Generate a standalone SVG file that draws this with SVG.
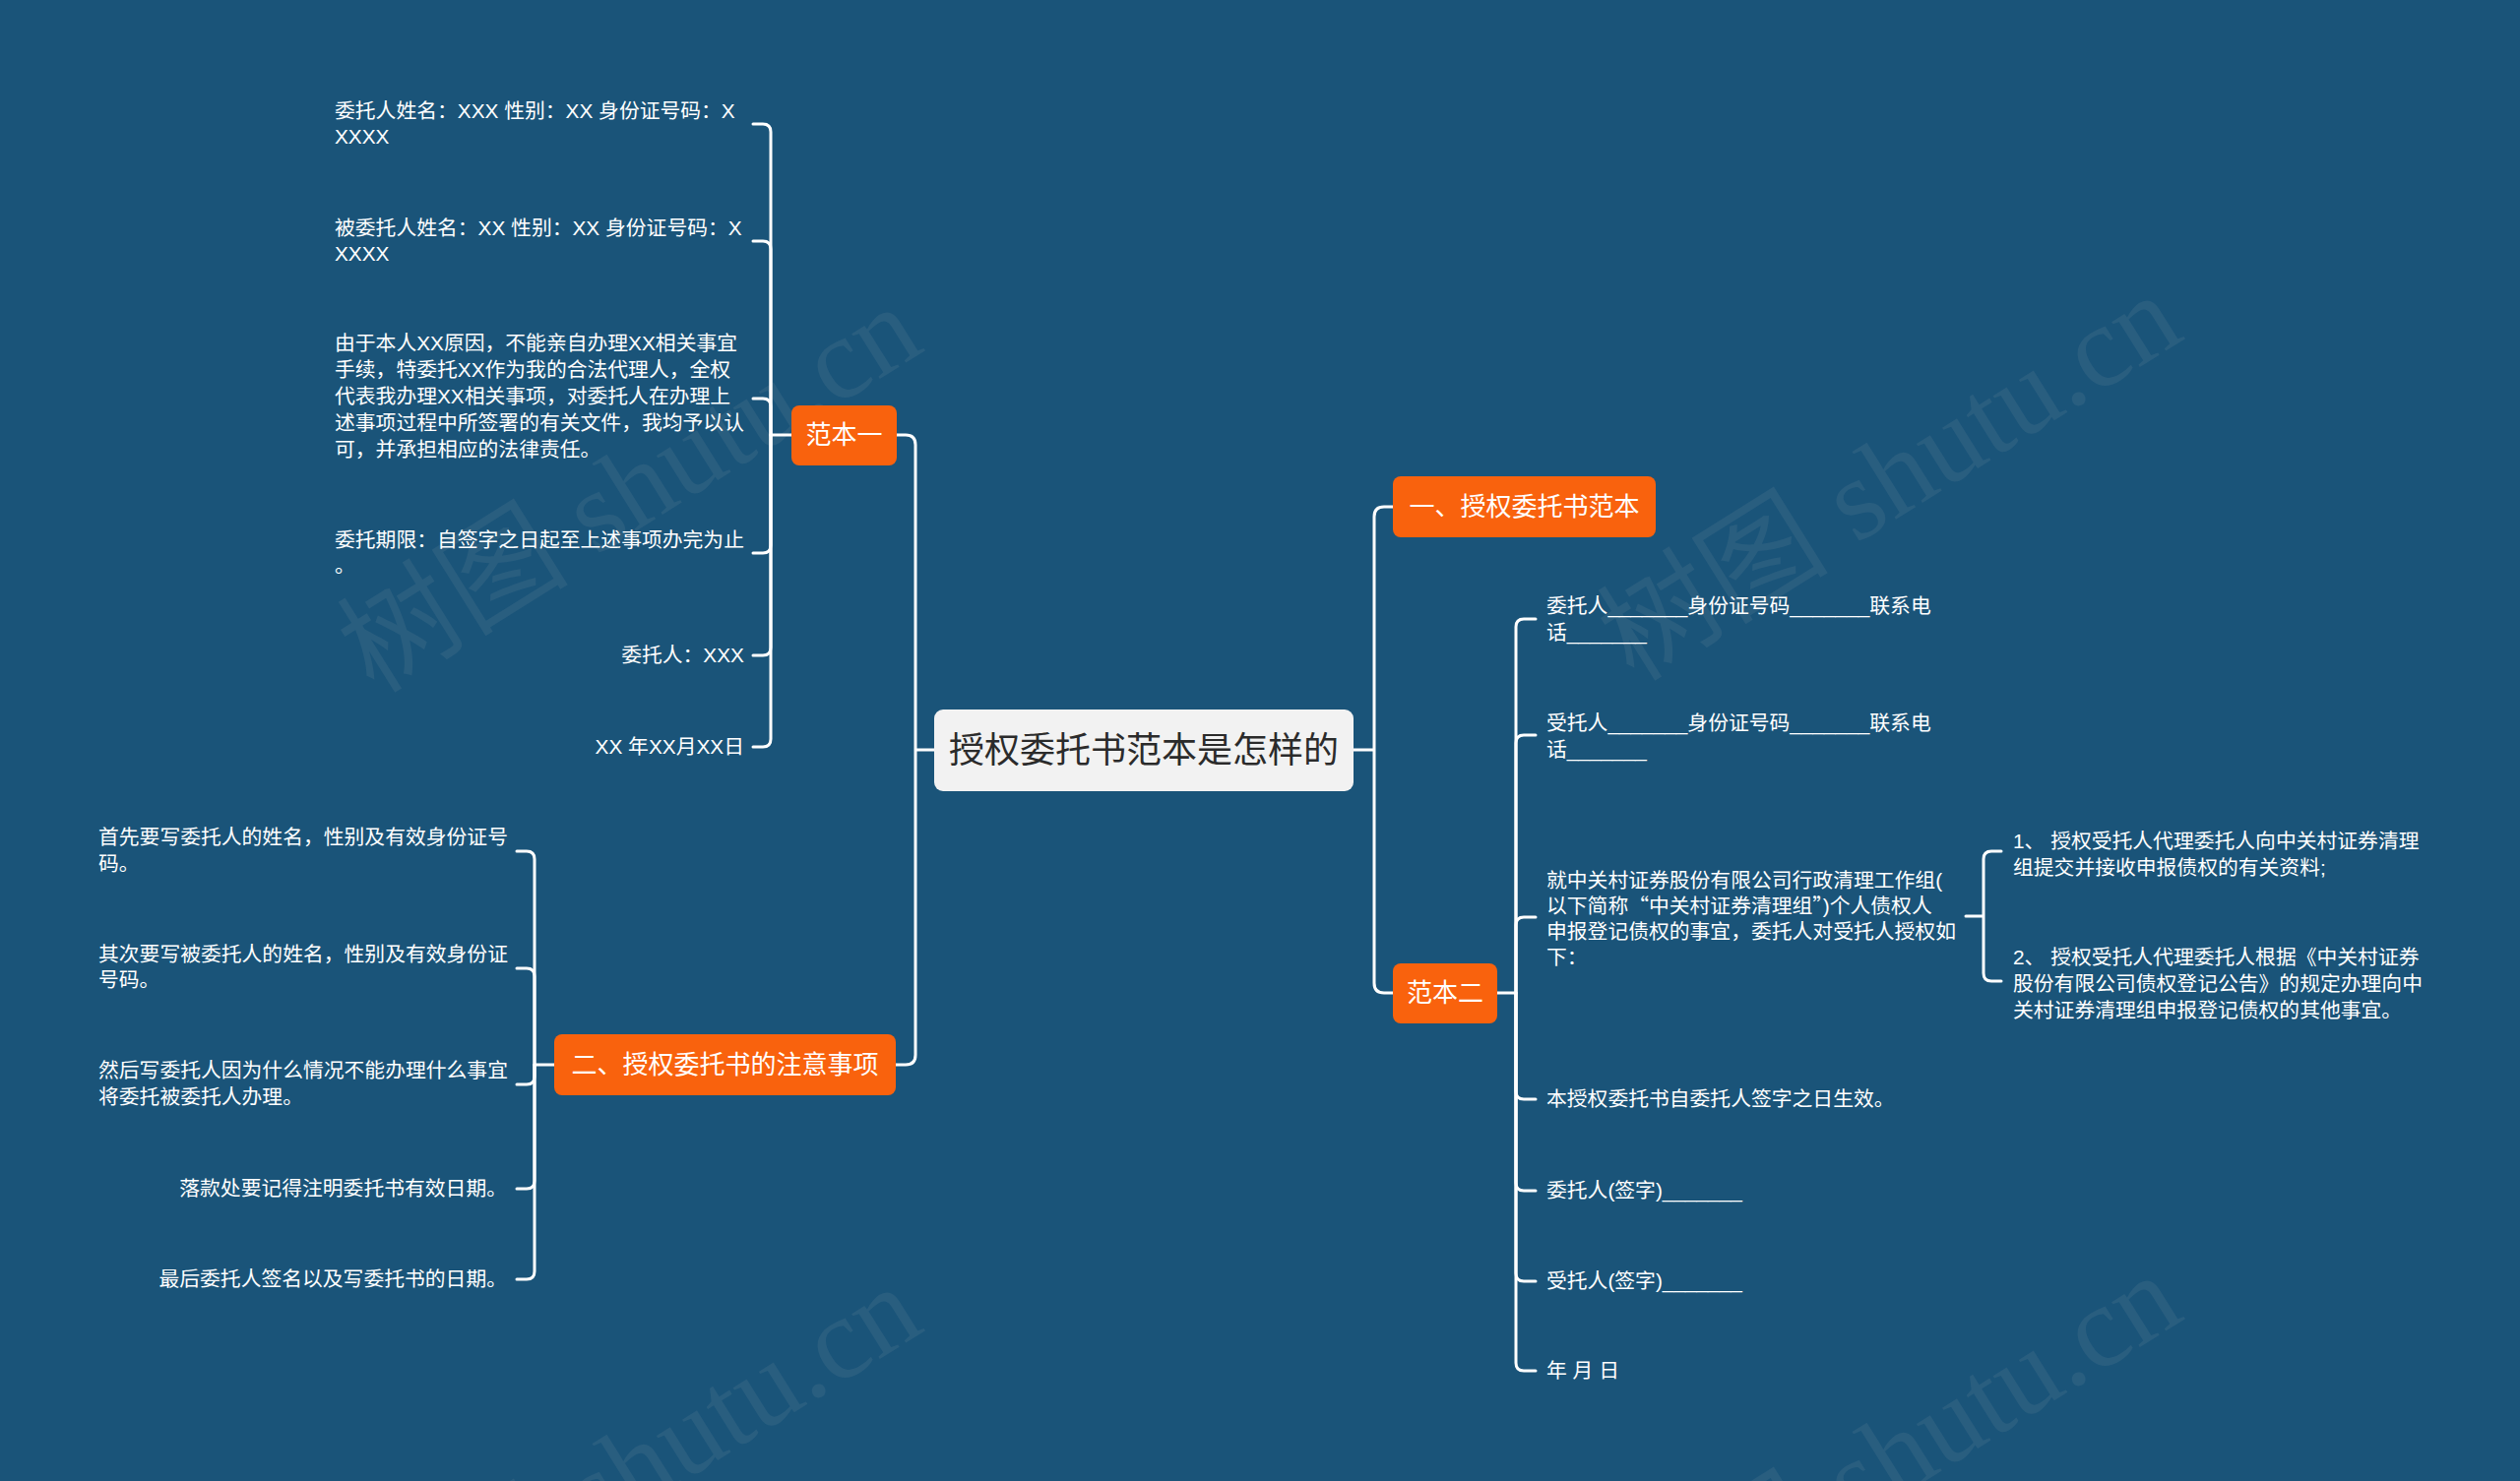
<svg xmlns="http://www.w3.org/2000/svg" width="2560" height="1505" viewBox="0 0 2560 1505">
<style>
.t{font-family:"Liberation Sans","Noto Sans CJK SC",sans-serif;font-size:20.8px;fill:#ffffff}
.e{text-anchor:end}
.q{font-family:"Noto Sans CJK SC",sans-serif}
.box{fill:#F9620D}
.bt{font-family:"Liberation Sans","Noto Sans CJK SC",sans-serif;font-size:26px;fill:#ffffff;text-anchor:middle}
.ct{font-family:"Liberation Sans","Noto Sans CJK SC",sans-serif;font-size:36px;fill:#2b2b2b;text-anchor:middle}
.c path{fill:none;stroke:#ffffff;stroke-width:3;stroke-linecap:round;stroke-linejoin:round}
.wm{font-family:"Liberation Serif","Noto Sans CJK SC",serif;font-size:118px;fill:#8a9aa8;fill-opacity:0.14}
</style>
<rect width="2560" height="1505" fill="#1A5479"/>
<g id="watermarks">
<text class="wm" transform="translate(380,706) rotate(-32)">树图 shutu.cn</text>
<text class="wm" transform="translate(1660,694) rotate(-32)">树图 shutu.cn</text>
<text class="wm" transform="translate(380,1702) rotate(-32)">树图 shutu.cn</text>
<text class="wm" transform="translate(1660,1690) rotate(-32)">树图 shutu.cn</text>
</g>
<g id="connectors" class="c">
<path d="M949 762 H930 M930 762 V452 Q930 442 920 442 H911 M930 762 V1072 Q930 1082 920 1082 H910"/>
<path d="M1375 762 H1396 M1396 762 V525 Q1396 515 1406 515 H1415 M1396 762 V999 Q1396 1009 1406 1009 H1415"/>
<path d="M804 442 H783 V134 Q783 126 775 126 H765"/>
<path d="M783 442 V253 Q783 245 775 245 H765"/>
<path d="M783 442 V413 Q783 405 775 405 H765"/>
<path d="M783 442 V554 Q783 562 775 562 H765"/>
<path d="M783 442 V658 Q783 666 775 666 H765"/>
<path d="M783 442 V751 Q783 759 775 759 H765"/>
<path d="M563 1082 H543 V873 Q543 865 535 865 H525"/>
<path d="M543 1082 V992 Q543 984 535 984 H525"/>
<path d="M543 1082 V1094 Q543 1102 535 1102 H525"/>
<path d="M543 1082 V1200 Q543 1208 535 1208 H525"/>
<path d="M543 1082 V1292 Q543 1300 535 1300 H525"/>
<path d="M1521 1009 H1540 V637 Q1540 629 1548 629 H1560"/>
<path d="M1540 1009 V755 Q1540 747 1548 747 H1560"/>
<path d="M1540 1009 V940 Q1540 932 1548 932 H1560"/>
<path d="M1540 1009 V1109 Q1540 1117 1548 1117 H1560"/>
<path d="M1540 1009 V1202 Q1540 1210 1548 1210 H1560"/>
<path d="M1540 1009 V1294 Q1540 1302 1548 1302 H1560"/>
<path d="M1540 1009 V1385 Q1540 1393 1548 1393 H1560"/>
<path d="M1997 931 H2015 V873 Q2015 865 2023 865 H2033 M2015 931 V989 Q2015 997 2023 997 H2033"/>
</g>
<g id="root">
<rect x="949" y="721" width="426" height="83" rx="9" fill="#F2F2F2"/>
<text class="ct" x="1162" y="775">授权委托书范本是怎样的</text>
</g>
<g id="n-fanben1">
<rect class="box" x="804" y="412" width="107" height="61" rx="8"/>
<text class="bt" x="857.5" y="451">范本一</text>
</g>
<g id="n-zhuyi">
<rect class="box" x="563" y="1051" width="347" height="62" rx="8"/>
<text class="bt" x="736.5" y="1091">二、授权委托书的注意事项</text>
</g>
<g id="n-fanben">
<rect class="box" x="1415" y="484" width="267" height="62" rx="8"/>
<text class="bt" x="1548.5" y="524">一、授权委托书范本</text>
</g>
<g id="n-fanben2">
<rect class="box" x="1415" y="979" width="106" height="61" rx="8"/>
<text class="bt" x="1468" y="1018">范本二</text>
</g>
<g id="a1"><text class="t" x="340" y="120">委托人姓名：XXX 性别：XX 身份证号码：X</text><text class="t" x="340" y="146">XXXX</text></g>
<g id="a2"><text class="t" x="340" y="239">被委托人姓名：XX 性别：XX 身份证号码：X</text><text class="t" x="340" y="265">XXXX</text></g>
<g id="a3"><text class="t" x="340" y="356">由于本人XX原因，不能亲自办理XX相关事宜</text><text class="t" x="340" y="383">手续，特委托XX作为我的合法代理人，全权</text><text class="t" x="340" y="410">代表我办理XX相关事项，对委托人在办理上</text><text class="t" x="340" y="437">述事项过程中所签署的有关文件，我均予以认</text><text class="t" x="340" y="464">可，并承担相应的法律责任。</text></g>
<g id="a4"><text class="t" x="340" y="556">委托期限：自签字之日起至上述事项办完为止</text><text class="t" x="340" y="582">。</text></g>
<g id="a5"><text class="t e" x="756" y="673">委托人：XXX</text></g>
<g id="a6"><text class="t e" x="756" y="766">XX 年XX月XX日</text></g>
<g id="b1"><text class="t" x="100" y="858">首先要写委托人的姓名，性别及有效身份证号</text><text class="t" x="100" y="885">码。</text></g>
<g id="b2"><text class="t" x="100" y="977">其次要写被委托人的姓名，性别及有效身份证</text><text class="t" x="100" y="1003">号码。</text></g>
<g id="b3"><text class="t" x="100" y="1095">然后写委托人因为什么情况不能办理什么事宜</text><text class="t" x="100" y="1122">将委托被委托人办理。</text></g>
<g id="b4"><text class="t e" x="515" y="1215">落款处要记得注明委托书有效日期。</text></g>
<g id="b5"><text class="t e" x="515" y="1307">最后委托人签名以及写委托书的日期。</text></g>
<g id="c1"><text class="t" x="1571" y="623">委托人_______身份证号码_______联系电</text><text class="t" x="1571" y="650">话_______</text></g>
<g id="c2"><text class="t" x="1571" y="742">受托人_______身份证号码_______联系电</text><text class="t" x="1571" y="769">话_______</text></g>
<g id="c3"><text class="t" x="1571" y="902">就中关村证券股份有限公司行政清理工作组(</text><text class="t" x="1571" y="928">以下简称<tspan class="q">“</tspan>中关村证券清理组<tspan class="q">”</tspan>)个人债权人</text><text class="t" x="1571" y="954">申报登记债权的事宜，委托人对受托人授权如</text><text class="t" x="1571" y="980">下：</text></g>
<g id="c4"><text class="t" x="1571" y="1124">本授权委托书自委托人签字之日生效。</text></g>
<g id="c5"><text class="t" x="1571" y="1217">委托人(签字)_______</text></g>
<g id="c6"><text class="t" x="1571" y="1309">受托人(签字)_______</text></g>
<g id="c7"><text class="t" x="1571" y="1400">年 月 日</text></g>
<g id="d1"><text class="t" x="2045" y="862">1、 授权受托人代理委托人向中关村证券清理</text><text class="t" x="2045" y="889">组提交并接收申报债权的有关资料;</text></g>
<g id="d2"><text class="t" x="2045" y="980">2、 授权受托人代理委托人根据《中关村证券</text><text class="t" x="2045" y="1007">股份有限公司债权登记公告》的规定办理向中</text><text class="t" x="2045" y="1034">关村证券清理组申报登记债权的其他事宜。</text></g>
</svg>
